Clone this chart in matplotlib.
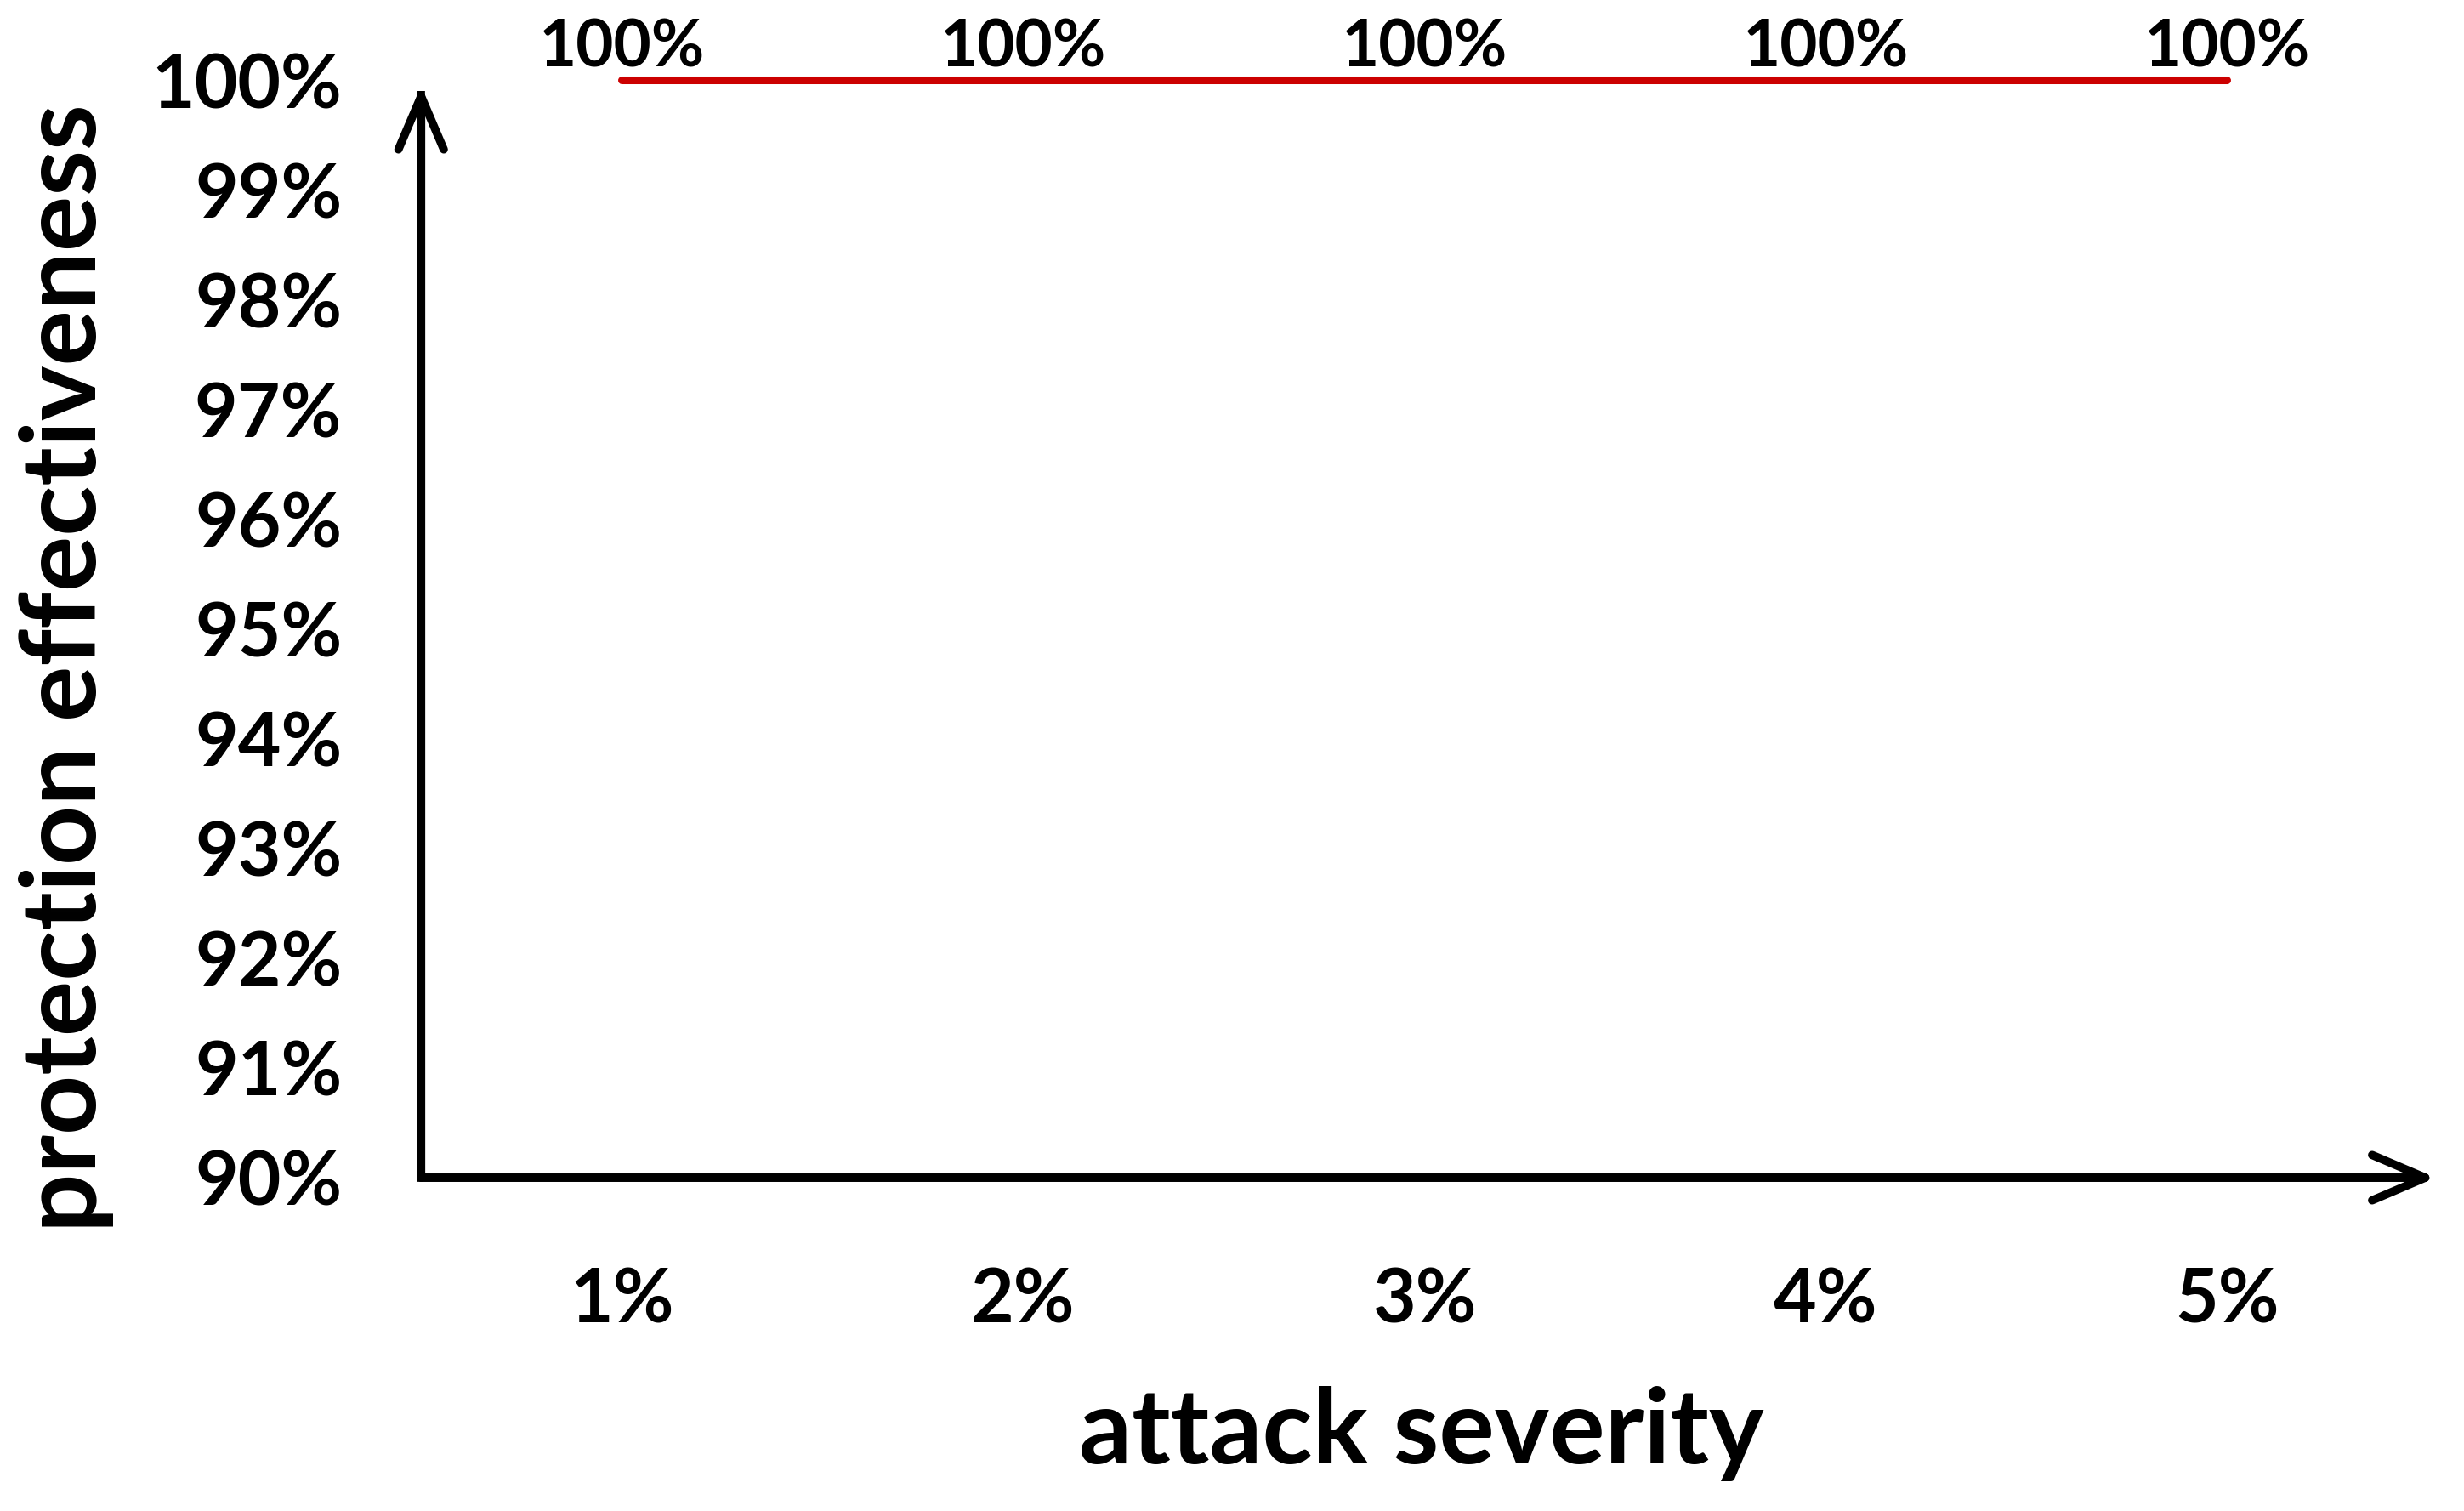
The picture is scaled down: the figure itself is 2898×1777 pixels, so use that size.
import matplotlib
matplotlib.use('Agg')
import matplotlib.pyplot as plt

plt.rcParams['font.family'] = ['Lato', 'DejaVu Sans']
plt.rcParams['font.weight'] = 'bold'

# data
severity = ['1%', '2%', '3%', '4%', '5%']
effect = [100, 100, 100, 100, 100]
y_ticks = [90, 91, 92, 93, 94, 95, 96, 97, 98, 99, 100]
x_pos = list(range(1, len(severity) + 1))

fig = plt.figure(figsize=(28.98, 17.77), dpi=100)
ax = fig.add_axes([0.1709, 0.2206, 0.8144, 0.7263])
ax.set_xlim(0.5, 5.5)
ax.set_ylim(90, 100)
for s in ax.spines.values():
    s.set_visible(False)

# axes lines with arrows
ax.plot([0.5, 0.5, 5.5], [99.9, 90, 90], color='black', lw=7,
        solid_joinstyle='miter', solid_capstyle='butt', clip_on=False, zorder=2)
arrow = dict(arrowstyle='->,head_length=0.75,head_width=0.32', lw=7, color='black',
             shrinkA=0, shrinkB=0, mutation_scale=60, joinstyle='round', capstyle='round')
ax.annotate('', xy=(0.5, 99.95), xytext=(0.5, 90), xycoords='data', arrowprops=arrow,
            annotation_clip=False)
ax.annotate('', xy=(5.52, 90), xytext=(0.5, 90), xycoords='data', arrowprops=arrow,
            annotation_clip=False)

# data line
ax.plot(x_pos, effect, color='#cc0000', lw=6.5, solid_capstyle='round', clip_on=False, zorder=3)
for x, v in zip(x_pos, effect):
    ax.annotate('%d%%' % v, (x, v), xytext=(0, 27), textcoords='offset points',
                ha='center', va='center', fontsize=55, fontweight='bold')

ax.set_xticks(x_pos)
ax.set_xticklabels(severity, fontsize=63, fontweight='bold')
ax.set_yticks(y_ticks)
ax.set_yticklabels(['%d%%' % t for t in y_ticks], fontsize=63, fontweight='bold')
ax.tick_params(axis='x', length=0, pad=75)
ax.tick_params(axis='y', length=0, pad=67)

fig.text(0.577, 0.051, 'attack severity', ha='center', va='center', fontsize=88, fontweight='bold')
fig.text(0.0268, 0.5578, 'protection effectiveness', ha='center', va='center', rotation=90,
         fontsize=88, fontweight='bold')

fig.savefig('out.png', dpi=100)
